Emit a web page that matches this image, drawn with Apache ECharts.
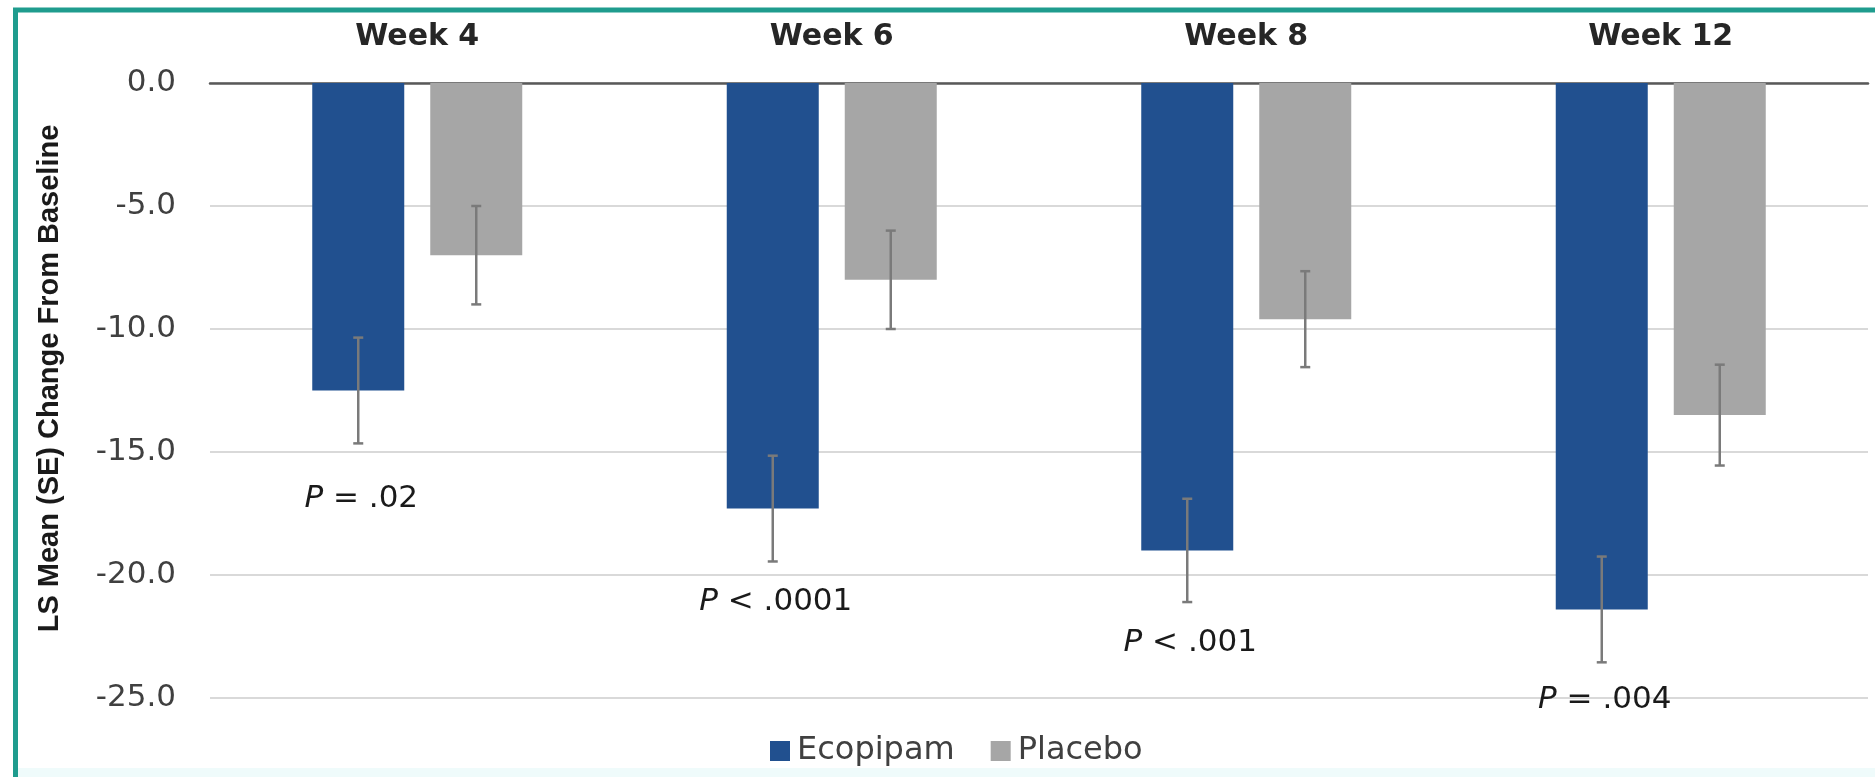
<!DOCTYPE html>
<html>
<head>
<meta charset="utf-8">
<title>LS Mean Change From Baseline</title>
<script src="https://cdn.jsdelivr.net/npm/echarts@6/dist/echarts.min.js"></script>
<style>
  html, body { margin: 0; padding: 0; background: #ffffff; }
  #chart { width: 1875px; height: 777px; }
</style>
</head>
<body>
<div id="chart"></div>
<script>
// ---- data ----
const categories = ['Week 4', 'Week 6', 'Week 8', 'Week 12'];
const ecopipamMean = [-12.5, -17.3, -19.0, -21.4];
const ecopipamSE = [2.15, 2.15, 2.1, 2.15];
const placeboMean = [-7.0, -8.0, -9.6, -13.5];
const placeboSE = [2.0, 2.0, 1.95, 2.05];
const pValueText = ['= .02', '< .0001', '< .001', '= .004'];
const yMin = -25;
const yMax = 0;
const yStep = 5;

// ---- layout / style ----
const BLUE = '#21508f';
const GREY = '#a6a6a6';
const ERR = '#7a7a7a';
const BAR_W = 92;
const BAR_GAP = 26;              // px between the two bars of a week
const P_DROP = [56, 40, 41, 38]; // px from lower whisker to the p-value text centre
const FONT = '"DejaVu Sans", sans-serif';

const chart = echarts.init(document.getElementById('chart'), null, { renderer: 'canvas' });

function errorRows(mean, se) {
  return mean.map((m, i) => [i, m - se[i], m + se[i]]);
}

// whiskers drawn on top of one bar of each pair (side: -1 left bar, +1 right bar)
function errorBarRenderer(side) {
  return function (params, api) {
    const i = api.value(0);
    const lo = api.coord([i, api.value(1)]);
    const hi = api.coord([i, api.value(2)]);
    const x = lo[0] + side * (BAR_W + BAR_GAP) / 2;
    const cap = 5;
    const st = { stroke: ERR, lineWidth: 2.5 };
    return {
      type: 'group',
      children: [
        { type: 'line', shape: { x1: x, y1: hi[1], x2: x, y2: lo[1] }, style: st },
        { type: 'line', shape: { x1: x - cap, y1: hi[1], x2: x + cap, y2: hi[1] }, style: st },
        { type: 'line', shape: { x1: x - cap, y1: lo[1], x2: x + cap, y2: lo[1] }, style: st }
      ]
    };
  };
}

function pLabelRenderer(params, api) {
  const i = api.value(0);
  const lo = api.coord([i, api.value(1)]);
  const x = lo[0] - (BAR_W + BAR_GAP) / 2 + 3;
  return {
    type: 'text',
    x: x,
    y: lo[1] + P_DROP[i],
    style: {
      text: '{i|P} ' + pValueText[i],
      fill: '#1a1a1a',
      fontSize: 31,
      fontFamily: FONT,
      align: 'center',
      verticalAlign: 'middle',
      rich: { i: { fontStyle: 'italic', fontSize: 31, fontFamily: FONT, fill: '#1a1a1a' } }
    }
  };
}

const option = {
  backgroundColor: '#ffffff',
  animation: false,
  graphic: [
    {
      type: 'rect',
      z: -11,
      shape: { x: 18, y: 768, width: 1857, height: 9 },
      style: { fill: '#effbfb' }
    },
    {
      type: 'rect',
      z: -10,
      shape: { x: 15.5, y: 10, width: 1920, height: 820 },
      style: { fill: 'none', stroke: '#1f9c8e', lineWidth: 5 }
    }
  ],
  grid: { left: 210, right: 7, top: 83, bottom: 79 },
  legend: {
    data: ['Ecopipam', 'Placebo'],
    left: 765,
    top: 730,
    icon: 'rect',
    itemWidth: 20,
    itemHeight: 20,
    itemGap: 36,
    textStyle: { fontSize: 32, fontFamily: FONT, color: '#404040', padding: [0, 0, 0, 2] }
  },
  xAxis: {
    type: 'category',
    data: categories,
    position: 'top',
    axisTick: { show: false },
    axisLine: { onZero: false, lineStyle: { color: '#595959', width: 2.5 } },
    axisLabel: {
      margin: 31,
      fontSize: 30,
      fontWeight: 'bold',
      fontFamily: FONT,
      color: '#262626'
    }
  },
  yAxis: {
    type: 'value',
    min: yMin,
    max: yMax,
    interval: yStep,
    name: 'LS Mean (SE) Change From Baseline',
    nameLocation: 'middle',
    nameGap: 146,
    nameTextStyle: {
      fontSize: 29,
      fontWeight: 'bold',
      fontFamily: '"Liberation Sans", Arial, sans-serif',
      color: '#1a1a1a',
      padding: [0, 0, 0, 24]
    },
    axisLine: { show: false },
    axisTick: { show: false },
    axisLabel: {
      margin: 34,
      fontSize: 31,
      fontFamily: FONT,
      color: '#404040',
      formatter: v => v.toFixed(1)
    },
    splitLine: { lineStyle: { color: '#d9d9d9', width: 2 } }
  },
  series: [
    {
      name: 'Ecopipam',
      type: 'bar',
      data: ecopipamMean,
      barWidth: BAR_W,
      barGap: (BAR_GAP / BAR_W * 100) + '%',
      itemStyle: { color: BLUE },
      z: 2
    },
    {
      name: 'Placebo',
      type: 'bar',
      data: placeboMean,
      barWidth: BAR_W,
      itemStyle: { color: GREY },
      z: 2
    },
    {
      name: 'Ecopipam SE',
      type: 'custom',
      renderItem: errorBarRenderer(-1),
      data: errorRows(ecopipamMean, ecopipamSE),
      encode: { x: 0, y: [1, 2] },
      clip: false,
      z: 5
    },
    {
      name: 'Placebo SE',
      type: 'custom',
      renderItem: errorBarRenderer(1),
      data: errorRows(placeboMean, placeboSE),
      encode: { x: 0, y: [1, 2] },
      clip: false,
      z: 5
    },
    {
      name: 'P value',
      type: 'custom',
      renderItem: pLabelRenderer,
      data: errorRows(ecopipamMean, ecopipamSE),
      encode: { x: 0, y: [1, 2] },
      clip: false,
      silent: true,
      z: 6
    }
  ]
};

chart.setOption(option);
</script>
</body>
</html>
